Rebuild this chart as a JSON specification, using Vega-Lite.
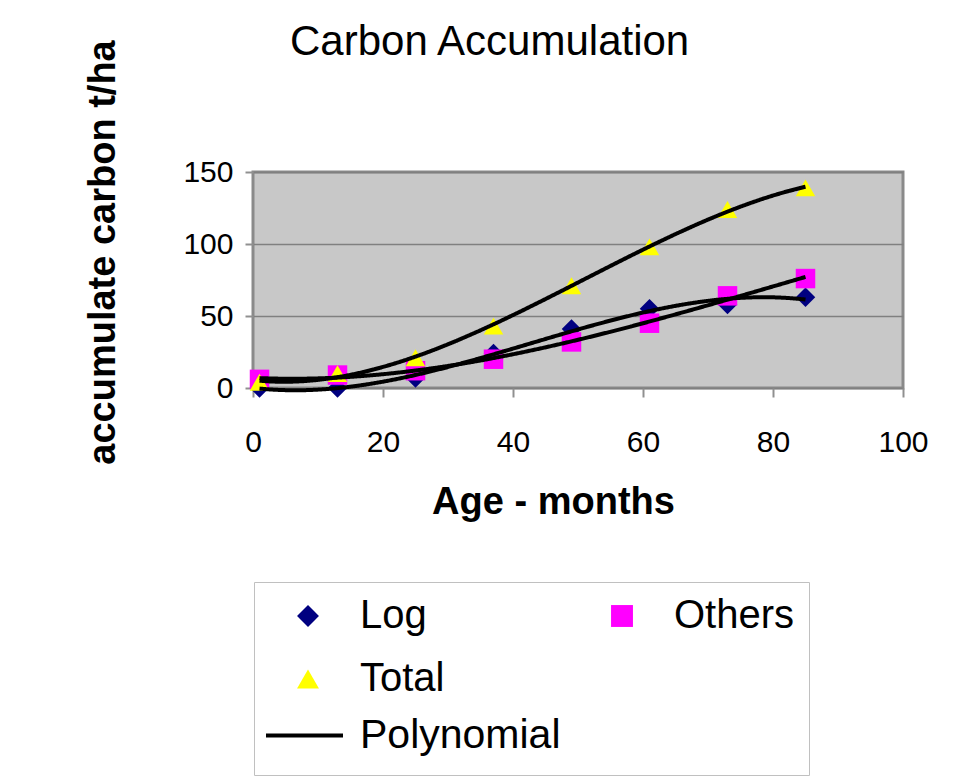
{
  "$schema": "https://vega.github.io/schema/vega-lite/v6.json",
  "width": 650,
  "height": 216,
  "autosize": {"type": "none"},
  "padding": {"left": 253, "top": 172, "right": 57, "bottom": 394},
  "background": "white",
  "title": {
    "text": "Carbon Accumulation",
    "anchor": "start",
    "frame": "group",
    "dx": 37,
    "offset": 0,
    "dy": 57,
    "baseline": "alphabetic",
    "font": "Liberation Sans",
    "fontSize": 42,
    "fontWeight": "normal",
    "color": "black"
  },
  "data": {
    "values": [
      {"series": "Log", "age": 1, "value": 0},
      {"series": "Log", "age": 13, "value": 0},
      {"series": "Log", "age": 25, "value": 7},
      {"series": "Log", "age": 37, "value": 24},
      {"series": "Log", "age": 49, "value": 41},
      {"series": "Log", "age": 61, "value": 55},
      {"series": "Log", "age": 73, "value": 58},
      {"series": "Log", "age": 85, "value": 63},
      {"series": "Others", "age": 1, "value": 6},
      {"series": "Others", "age": 13, "value": 9},
      {"series": "Others", "age": 25, "value": 12},
      {"series": "Others", "age": 37, "value": 20},
      {"series": "Others", "age": 49, "value": 32},
      {"series": "Others", "age": 61, "value": 45},
      {"series": "Others", "age": 73, "value": 64},
      {"series": "Others", "age": 85, "value": 76},
      {"series": "Total", "age": 1, "value": 4},
      {"series": "Total", "age": 13, "value": 10},
      {"series": "Total", "age": 25, "value": 21},
      {"series": "Total", "age": 37, "value": 43},
      {"series": "Total", "age": 49, "value": 71},
      {"series": "Total", "age": 61, "value": 98},
      {"series": "Total", "age": 73, "value": 124},
      {"series": "Total", "age": 85, "value": 139}
    ]
  },
  "encoding": {
    "x": {
      "field": "age",
      "type": "quantitative",
      "scale": {"domain": [0, 100], "nice": false, "zero": false},
      "axis": {
        "values": [0, 20, 40, 60, 80, 100],
        "title": "Age - months",
        "titleX": 300,
        "titleY": 114,
        "titleAlign": "center",
        "titleBaseline": "middle",
        "titleFont": "Liberation Sans",
        "titleFontSize": 38,
        "titleFontWeight": "bold",
        "titleColor": "black",
        "labelFont": "Liberation Sans",
        "labelFontSize": 30,
        "labelColor": "black",
        "labelPadding": 30,
        "labelFlush": false,
        "tickSize": 9,
        "tickColor": "#909090",
        "tickWidth": 2,
        "domain": false,
        "grid": false
      }
    },
    "y": {
      "field": "value",
      "type": "quantitative",
      "scale": {"domain": [0, 150], "nice": false},
      "axis": {
        "values": [0, 50, 100, 150],
        "title": "accumulate carbon t/ha",
        "titleAngle": -90,
        "titleX": -150,
        "titleY": 80,
        "titleAlign": "center",
        "titleBaseline": "middle",
        "titleFont": "Liberation Sans",
        "titleFontSize": 38,
        "titleFontWeight": "bold",
        "titleColor": "black",
        "labelFont": "Liberation Sans",
        "labelFontSize": 30,
        "labelColor": "black",
        "labelPadding": 12,
        "labelFlush": false,
        "tickSize": 8,
        "tickColor": "#909090",
        "tickWidth": 2,
        "domain": false,
        "grid": true,
        "gridColor": "#808080",
        "gridWidth": 1.5
      }
    }
  },
  "layer": [
    {
      "mark": {"type": "point", "filled": true, "size": 380, "opacity": 1},
      "encoding": {
        "color": {
          "field": "series",
          "type": "nominal",
          "scale": {
            "domain": ["Log", "Others", "Total"],
            "range": ["#000080", "#FF00FF", "#FFFF00"]
          },
          "legend": {
            "title": "                                                          ",
            "titleOrient": "bottom",
            "titleFontSize": 38,
            "titleFont": "Liberation Sans",
            "titleLimit": 2000,
            "titlePadding": 24,
            "titleAnchor": "start",
            "orient": "none",
            "legendX": 1,
            "legendY": 410,
            "direction": "horizontal",
            "columns": 2,
            "symbolSize": 480,
            "symbolOffset": 20,
            "labelOffset": 32,
            "labelFont": "Liberation Sans",
            "labelFontSize": 40,
            "labelColor": "black",
            "labelLimit": 600,
            "columnPadding": 137,
            "rowPadding": 23,
            "padding": 14,
            "strokeColor": "#c0c0c0"
          }
        },
        "shape": {
          "field": "series",
          "type": "nominal",
          "scale": {
            "domain": ["Log", "Others", "Total"],
            "range": ["diamond", "square", "triangle-up"]
          },
          "legend": {
            "title": "                                                          ",
            "titleOrient": "bottom",
            "titleFontSize": 38,
            "titleFont": "Liberation Sans",
            "titleLimit": 2000,
            "titlePadding": 24,
            "titleAnchor": "start",
            "orient": "none",
            "legendX": 1,
            "legendY": 410,
            "direction": "horizontal",
            "columns": 2,
            "symbolSize": 480,
            "symbolOffset": 20,
            "labelOffset": 32,
            "labelFont": "Liberation Sans",
            "labelFontSize": 40,
            "labelColor": "black",
            "labelLimit": 600,
            "columnPadding": 137,
            "rowPadding": 23,
            "padding": 14,
            "strokeColor": "#c0c0c0"
          }
        }
      }
    },
    {
      "transform": [
        {"regression": "value", "on": "age", "groupby": ["series"], "method": "poly", "order": 3, "extent": [1, 85]}
      ],
      "mark": {"type": "line", "color": "black", "strokeWidth": 4},
      "encoding": {
        "detail": {"field": "series", "type": "nominal"},
        "strokeDash": {
          "datum": "Polynomial",
          "scale": {"domain": ["Polynomial"], "range": [[1, 0]]},
          "legend": {
            "title": null,
            "orient": "none",
            "legendX": 11,
            "legendY": 523,
            "padding": 0,
            "symbolType": "stroke",
            "symbolSize": 5929,
            "symbolStrokeWidth": 4,
            "symbolStrokeColor": "black",
            "labelOffset": 15,
            "labelFont": "Liberation Sans",
            "labelFontSize": 41,
            "labelColor": "black",
            "labelLimit": 600
          }
        }
      }
    }
  ],
  "config": {
    "view": {"fill": "#c8c8c8", "stroke": "#8a8a8a", "strokeWidth": 3}
  }
}
